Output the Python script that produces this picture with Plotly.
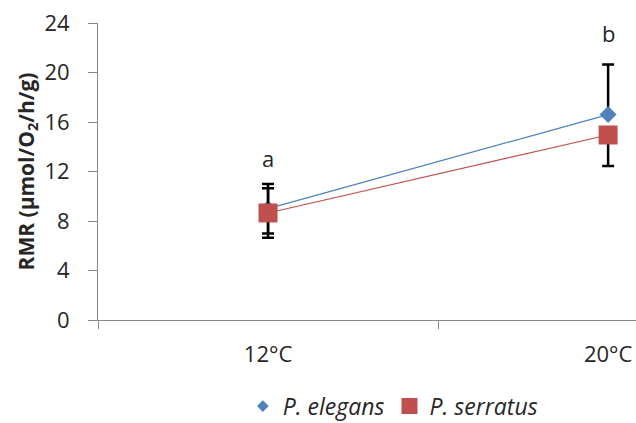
import plotly.graph_objects as go

# Resting metabolic rate at two acclimation temperatures
temps = ["12°C", "20°C"]

elegans_mean = [9.0, 16.6]
elegans_err_plus = [2.0, 4.05]
elegans_err_minus = [2.0, 0.0]

serratus_mean = [8.65, 14.95]
serratus_err_plus = [2.0, 0.0]
serratus_err_minus = [2.0, 2.5]

sig_letters = ["a", "b"]
sig_heights = [13.1, 23.2]

FONT = "Open Sans"
BLUE = "#4F81BD"
RED = "#C0504D"
INK = "#262626"

fig = go.Figure()

fig.add_trace(go.Scatter(
    x=temps, y=elegans_mean, name="P. elegans", showlegend=False,
    mode="lines+markers",
    line=dict(color=BLUE, width=1.2),
    marker=dict(symbol="diamond", size=13, color=BLUE),
    error_y=dict(type="data", symmetric=False, array=elegans_err_plus,
                 arrayminus=elegans_err_minus, color="black",
                 thickness=2.5, width=6),
    cliponaxis=False,
))

fig.add_trace(go.Scatter(
    x=temps, y=serratus_mean, name="P. serratus", showlegend=False,
    mode="lines+markers",
    line=dict(color=RED, width=1.2),
    marker=dict(symbol="square", size=19, color=RED),
    error_y=dict(type="data", symmetric=False, array=serratus_err_plus,
                 arrayminus=serratus_err_minus, color="black",
                 thickness=2.5, width=6),
    cliponaxis=False,
))

# Legend entries show the marker only, without the connecting line
fig.add_trace(go.Scatter(
    x=[None], y=[None], name="<i>P. elegans</i>", mode="markers",
    marker=dict(symbol="diamond", size=9, color=BLUE),
))
fig.add_trace(go.Scatter(
    x=[None], y=[None], name="<i>P. serratus</i>", mode="markers",
    marker=dict(symbol="square", size=16, color=RED),
))

for t, letter, h in zip(temps, sig_letters, sig_heights):
    fig.add_annotation(x=t, y=h, text=letter, showarrow=False,
                       font=dict(family=FONT, size=22, color=INK))

fig.update_layout(
    width=636, height=423,
    margin=dict(l=98, r=0, t=23, b=103),
    paper_bgcolor="white", plot_bgcolor="white",
    font=dict(family=FONT, size=22, color=INK),
    showlegend=True,
    legend=dict(orientation="h", xref="paper", x=0.548, xanchor="center",
                yref="container", y=0.04, yanchor="middle",
                font=dict(family=FONT, size=23, color=INK),
                itemwidth=30, itemsizing="trace", tracegroupgap=0),
)

fig.update_xaxes(
    type="category", range=[-0.5, 1.082],
    tickson="boundaries", ticks="outside", ticklen=8, tickcolor="#888",
    showline=True, linecolor="#888", linewidth=1, showgrid=False,
    ticklabelstandoff=15, tickfont=dict(family=FONT, size=22, color=INK),
)

fig.update_yaxes(
    range=[0, 24], tickvals=[0, 4, 8, 12, 16, 20, 24],
    ticks="outside", ticklen=9, tickcolor="#888",
    showline=True, linecolor="#888", linewidth=1, showgrid=False,
    zeroline=False, ticklabelstandoff=14,
    tickfont=dict(family=FONT, size=22, color=INK),
    title=dict(text="<b>RMR (µmol/O<sub>2</sub>/h/g)</b>", standoff=4,
               font=dict(family=FONT, size=21, color=INK)),
)

fig.write_html("out.html")
